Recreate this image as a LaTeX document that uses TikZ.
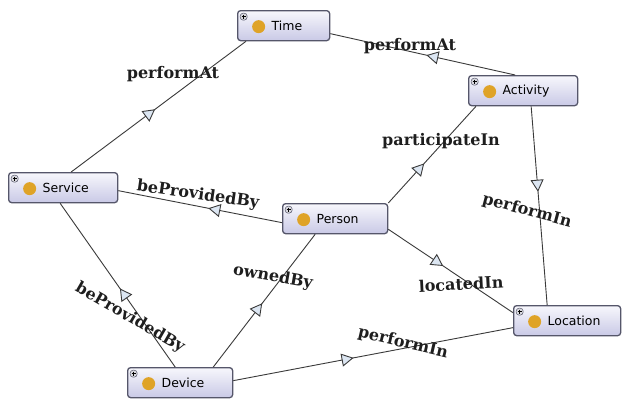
\documentclass[tikz,border=0pt]{standalone}
\usepackage{fontspec}
\usetikzlibrary{arrows.meta,decorations.markings}
\newfontfamily\clsfont{DejaVu Sans}
\newfontfamily\relfont{DejaVu Serif}

\definecolor{boxborder}{HTML}{55566A}
\definecolor{boxtop}{HTML}{F7F7FC}
\definecolor{boxbottom}{HTML}{C9C9E6}
\definecolor{dotcolor}{HTML}{DFA327}
\definecolor{plusfill}{HTML}{D8D8DE}
\definecolor{edgecolor}{HTML}{3A3A3A}
\definecolor{tipfill}{HTML}{DCE6F2}
\definecolor{labelcolor}{HTML}{1E1E1E}

\tikzset{
  cls/.style={
    draw=boxborder, line width=1.3pt, rounded corners=3pt,
    top color=boxtop, bottom color=boxbottom,
    anchor=north west, minimum height=30pt,
    inner xsep=4pt, inner ysep=2pt,
    text width=#1, align=left, font=\clsfont\fontsize{12.5pt}{14pt}\selectfont,
    path picture={
      \draw[draw=boxborder, fill=plusfill, line width=0.5pt]
        ([shift={(2.5pt,-2.5pt)}]path picture bounding box.north west)
        rectangle ++(7pt,-7pt);
      \draw[black, line width=0.7pt]
        ([shift={(4pt,-6pt)}]path picture bounding box.north west) -- ++(4pt,0pt)
        ([shift={(6pt,-4pt)}]path picture bounding box.north west) -- ++(0pt,-4pt);
      \fill[dotcolor]
        ([shift={(21pt,-1pt)}]path picture bounding box.west) circle (6.5pt);
    }
  },
  rel/.style={
    draw=edgecolor, line width=0.9pt,
    postaction={decorate},
    decoration={markings, mark=at position #1 with
      {\arrow{Triangle[length=12pt, width=13pt, fill=tipfill]}}}
  },
  rel/.default=0.48,
  rellabel/.style={
    font=\relfont\bfseries\fontsize{16pt}{18pt}\selectfont,
    text=labelcolor, inner sep=0pt
  }
}

\begin{document}
\begin{tikzpicture}[x=1pt, y=-1pt]
  \fill[white] (0,0) rectangle (623,402);
  \useasboundingbox (0,0) rectangle (623,402);

  % classes
  \node[cls=84pt]  (time) at (237,10)  {\hspace*{30pt}Time};
  \node[cls=101pt] (act)  at (468,75)  {\hspace*{30pt}Activity};
  \node[cls=101pt] (svc)  at (8,172)   {\hspace*{30pt}Service};
  \node[cls=97pt]  (per)  at (282,203) {\hspace*{30pt}Person};
  \node[cls=99pt]  (loc)  at (513,305) {\hspace*{30pt}Location};
  \node[cls=97pt]  (dev)  at (127,367) {\hspace*{30pt}Device};

  % object properties
  \draw[rel=0.48] ([xshift=8pt]svc.north) -- ([xshift=9pt]time.south west);
  \draw[rel=0.48] ([xshift=-8pt]act.north) -- ([yshift=-8pt]time.east);
  \draw[rel=0.41] (per.north east) -- ([xshift=8pt]act.south west);
  \draw[rel=0.43] ([xshift=8pt]act.south) -- ([xshift=-20pt]loc.north);
  \draw[rel=0.45] ([yshift=-4pt]per.west) -- ([yshift=-3pt]svc.east);
  \draw[rel=0.48] ([xshift=-5pt]dev.north) -- ([xshift=-3pt]svc.south);
  \draw[rel=0.48] ([xshift=-20pt]dev.north east) -- ([xshift=-20pt]per.south);
  \draw[rel=0.44] ([yshift=5pt]per.south east) -- ([yshift=8pt]loc.west);
  \draw[rel=0.43] ([yshift=2pt]dev.east) -- ([yshift=-7pt]loc.west);

  % property names
  \node[rellabel]              (l1) at (173,74)  {performAt};
  \node[rellabel]              (l2) at (410,46)  {performAt};
  \node[rellabel]              (l3) at (441,141) {participateIn};
  \node[rellabel, rotate=-15]  (l4) at (527,211) {performIn};
  \node[rellabel, rotate=-8]   (l5) at (198,195) {beProvidedBy};
  \node[rellabel, rotate=-30]  (l6) at (130,318) {beProvidedBy};
  \node[rellabel, rotate=-10]  (l7) at (273,277) {ownedBy};
  \node[rellabel, rotate=3]    (l8) at (461,284) {locatedIn};
  \node[rellabel, rotate=-13]  (l9) at (403,343) {performIn};
\end{tikzpicture}
\end{document}
